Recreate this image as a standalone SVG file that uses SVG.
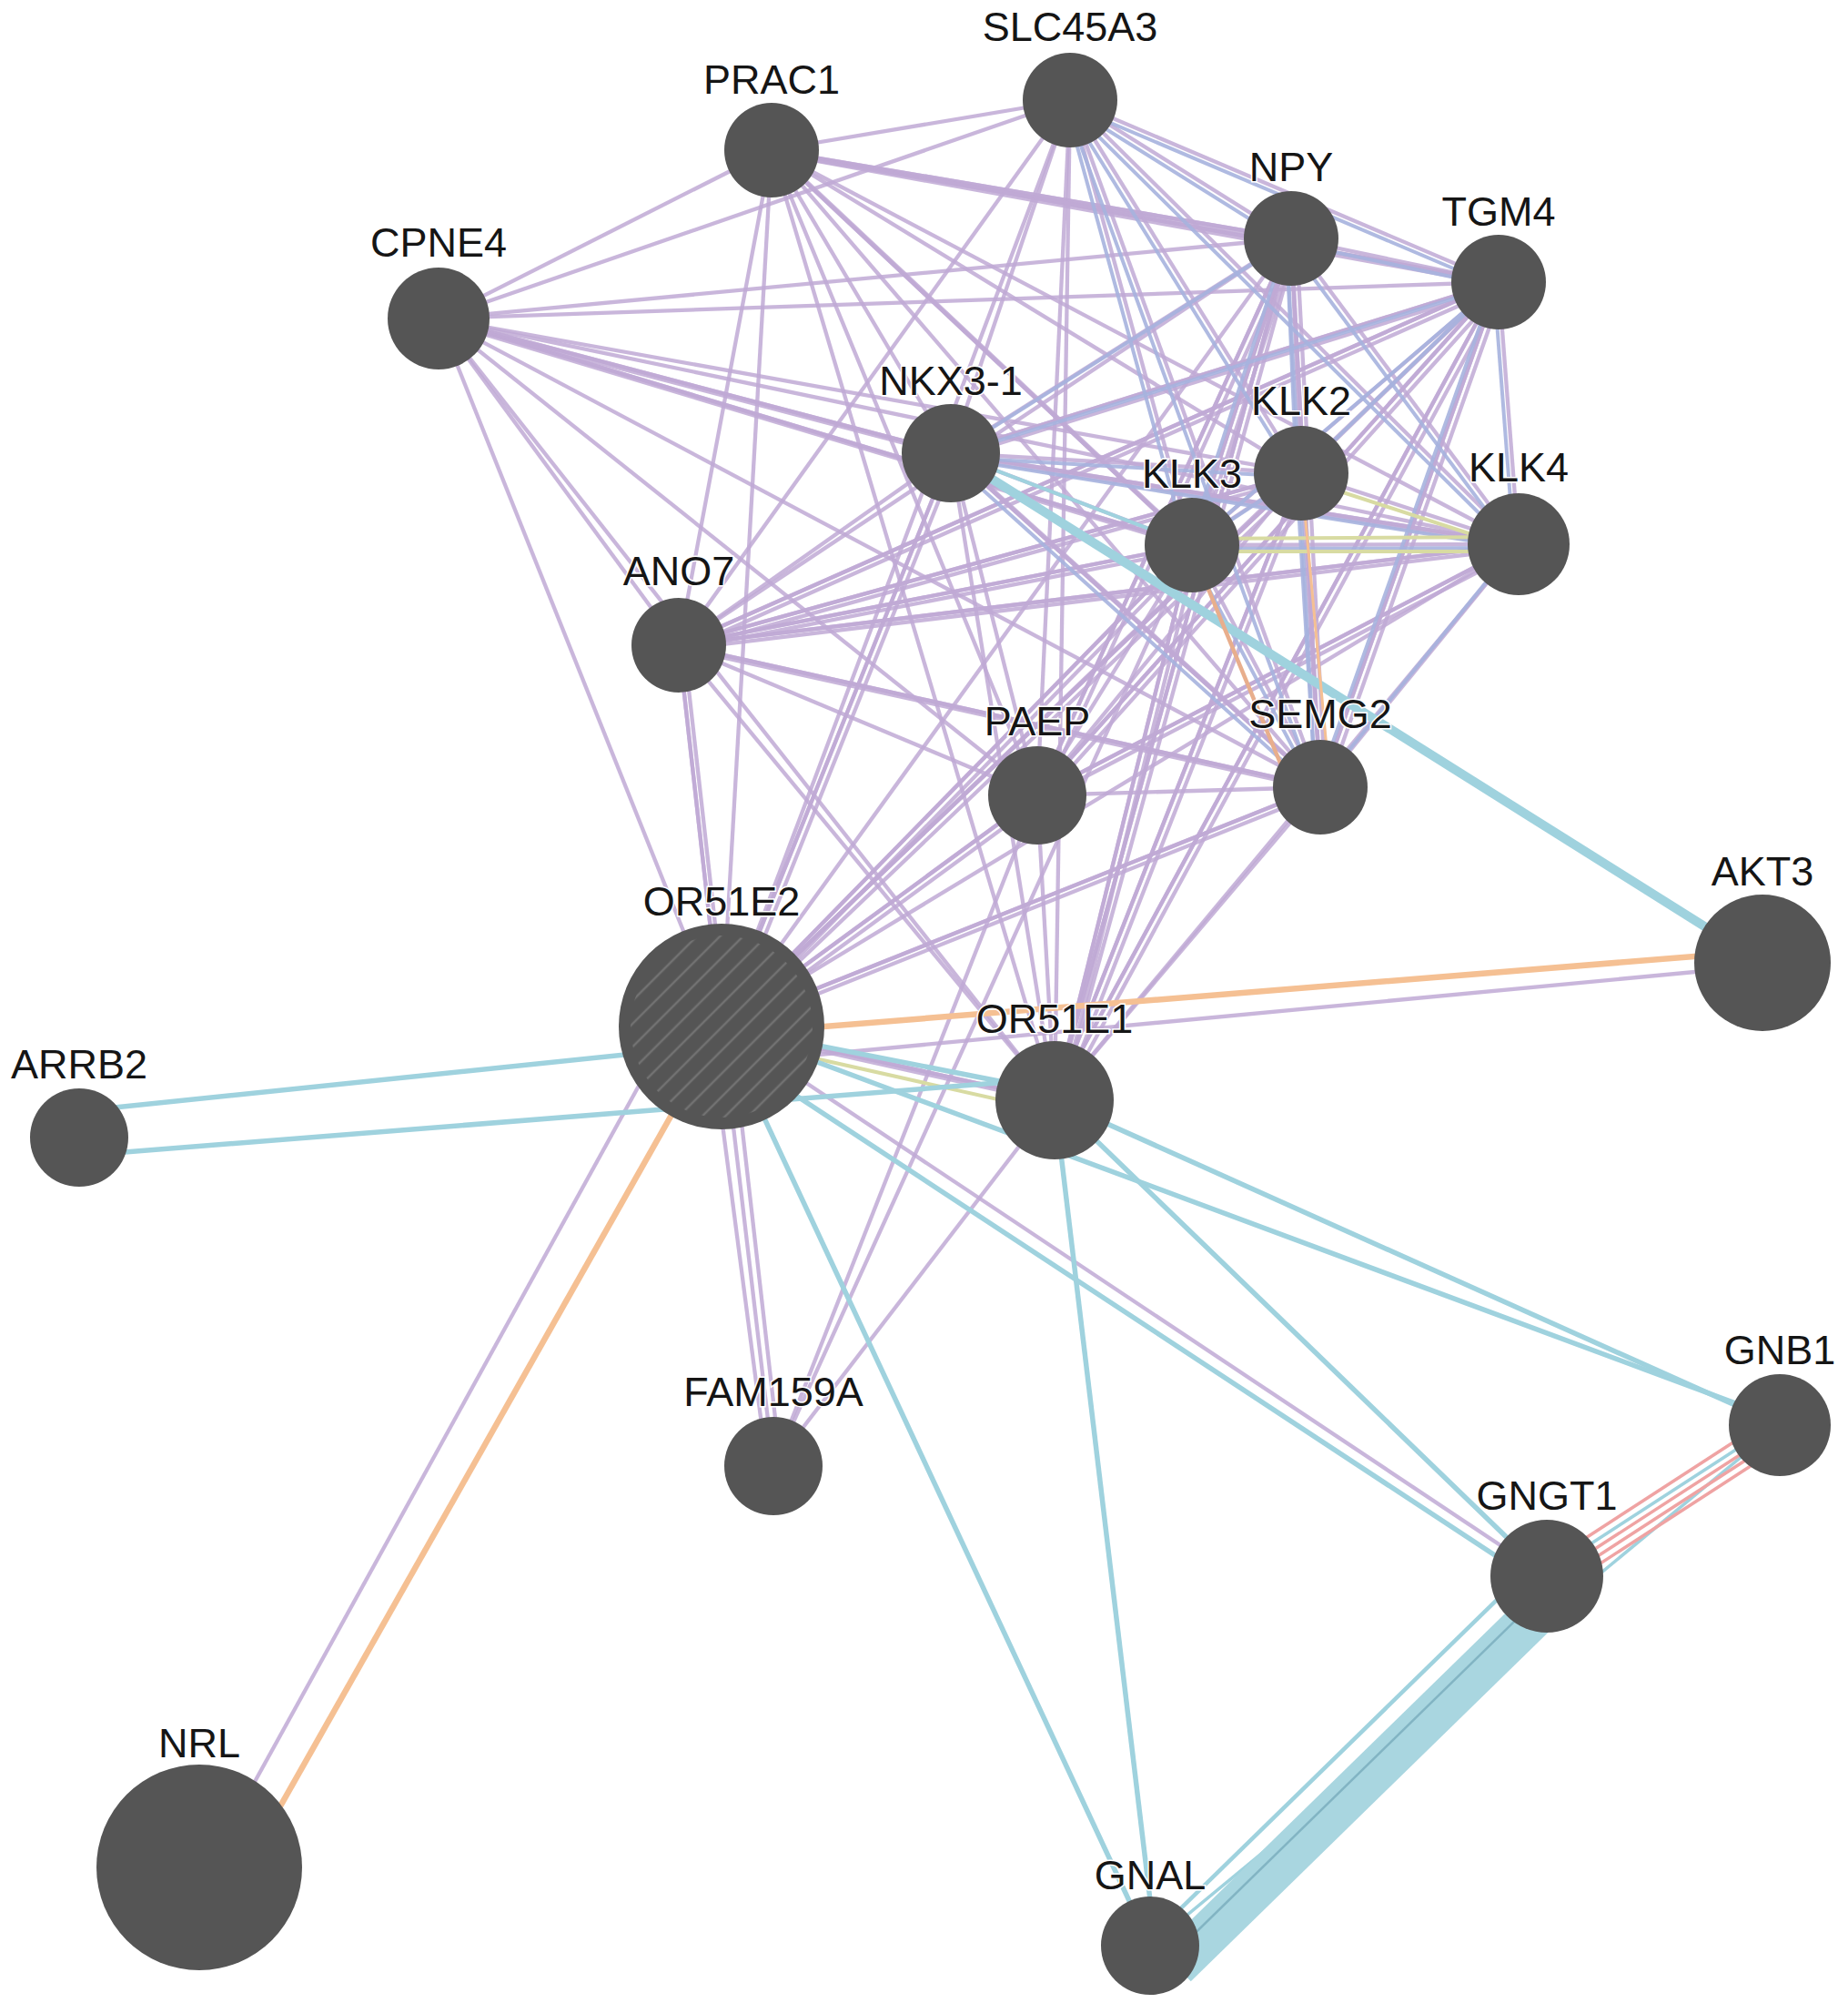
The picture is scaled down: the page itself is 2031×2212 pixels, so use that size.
<svg xmlns="http://www.w3.org/2000/svg" xmlns:xlink="http://www.w3.org/1999/xlink" width="2031" height="2212" viewBox="0 0 2031 2212">
<defs>
<style>
.co{stroke:#c0a9d5;stroke-width:4.3;stroke-opacity:.85;fill:none}
.cl{stroke:#a6b2de;stroke-width:4;stroke-opacity:.9;fill:none}
.pw{stroke:#9fd2de;stroke-width:5.5;fill:none}
.pi{stroke:#f5c093;stroke-width:6.5;fill:none}
.sd{stroke:#d8dba2;stroke-width:4;fill:none}
.gi{stroke:#efa3a3;stroke-width:3.5;fill:none}
.n{fill:#555555}
.lbl{font-family:"Liberation Sans",Arial,sans-serif;font-size:45px;fill:#151515;text-anchor:middle;stroke:#ffffff;stroke-width:3;paint-order:stroke}
</style>
<pattern id="hatch" patternUnits="userSpaceOnUse" width="18" height="18" patternTransform="rotate(-45)">
<rect width="18" height="18" fill="#555555"/>
<line x1="0" y1="9" x2="18" y2="9" stroke="#727272" stroke-width="2.5"/>
</pattern>
</defs>
<rect width="2031" height="2212" fill="#ffffff"/>
<g id="connectors">
<g id="coexpression" class="co">
<line x1="1176" y1="110" x2="848" y2="165"/>
<line x1="1176" y1="110" x2="482" y2="350"/>
<line x1="1176" y1="110" x2="1419" y2="262"/>
<line x1="1176" y1="110" x2="1647" y2="310"/>
<line x1="1176" y1="110" x2="1045" y2="498"/>
<line x1="1176" y1="110" x2="1430" y2="520"/>
<line x1="1176" y1="110" x2="1310" y2="599"/>
<line x1="1176" y1="110" x2="1669" y2="598"/>
<line x1="1176" y1="110" x2="746" y2="709"/>
<line x1="1176" y1="110" x2="1140" y2="874"/>
<line x1="1176" y1="110" x2="1451" y2="865"/>
<line x1="1176" y1="110" x2="793" y2="1128"/>
<line x1="1176" y1="110" x2="1159" y2="1209"/>
<line x1="848" y1="165" x2="482" y2="350"/>
<line x1="848" y1="165" x2="1419" y2="262"/>
<line x1="848" y1="165" x2="1647" y2="310"/>
<line x1="848" y1="165" x2="1045" y2="498"/>
<line x1="848" y1="165" x2="1430" y2="520"/>
<line x1="848" y1="165" x2="1310" y2="599"/>
<line x1="848" y1="165" x2="1669" y2="598"/>
<line x1="848" y1="165" x2="746" y2="709"/>
<line x1="848" y1="165" x2="1140" y2="874"/>
<line x1="848" y1="165" x2="1451" y2="865"/>
<line x1="848" y1="165" x2="793" y2="1128"/>
<line x1="848" y1="165" x2="1159" y2="1209"/>
<line x1="482" y1="350" x2="1419" y2="262"/>
<line x1="482" y1="350" x2="1647" y2="310"/>
<line x1="482" y1="350" x2="1045" y2="498"/>
<line x1="482" y1="350" x2="1430" y2="520"/>
<line x1="482" y1="350" x2="1310" y2="599"/>
<line x1="482" y1="350" x2="1669" y2="598"/>
<line x1="482" y1="350" x2="746" y2="709"/>
<line x1="482" y1="350" x2="1140" y2="874"/>
<line x1="482" y1="350" x2="1451" y2="865"/>
<line x1="482" y1="350" x2="793" y2="1128"/>
<line x1="482" y1="350" x2="1159" y2="1209"/>
<line x1="1419" y1="262" x2="1647" y2="310"/>
<line x1="1419" y1="262" x2="1045" y2="498"/>
<line x1="1419" y1="262" x2="1430" y2="520"/>
<line x1="1419" y1="262" x2="1310" y2="599"/>
<line x1="1419" y1="262" x2="1669" y2="598"/>
<line x1="1419" y1="262" x2="746" y2="709"/>
<line x1="1419" y1="262" x2="1140" y2="874"/>
<line x1="1419" y1="262" x2="1451" y2="865"/>
<line x1="1419" y1="262" x2="793" y2="1128"/>
<line x1="1419" y1="262" x2="1159" y2="1209"/>
<line x1="1647" y1="310" x2="1045" y2="498"/>
<line x1="1647" y1="310" x2="1430" y2="520"/>
<line x1="1647" y1="310" x2="1310" y2="599"/>
<line x1="1647" y1="310" x2="1669" y2="598"/>
<line x1="1647" y1="310" x2="746" y2="709"/>
<line x1="1647" y1="310" x2="1140" y2="874"/>
<line x1="1647" y1="310" x2="1451" y2="865"/>
<line x1="1647" y1="310" x2="793" y2="1128"/>
<line x1="1647" y1="310" x2="1159" y2="1209"/>
<line x1="1045" y1="498" x2="1430" y2="520"/>
<line x1="1045" y1="498" x2="1310" y2="599"/>
<line x1="1045" y1="498" x2="1669" y2="598"/>
<line x1="1045" y1="498" x2="746" y2="709"/>
<line x1="1045" y1="498" x2="1140" y2="874"/>
<line x1="1045" y1="498" x2="1451" y2="865"/>
<line x1="1045" y1="498" x2="793" y2="1128"/>
<line x1="1045" y1="498" x2="1159" y2="1209"/>
<line x1="1430" y1="520" x2="1310" y2="599"/>
<line x1="1430" y1="520" x2="1669" y2="598"/>
<line x1="1430" y1="520" x2="746" y2="709"/>
<line x1="1430" y1="520" x2="1140" y2="874"/>
<line x1="1430" y1="520" x2="1451" y2="865"/>
<line x1="1430" y1="520" x2="793" y2="1128"/>
<line x1="1430" y1="520" x2="1159" y2="1209"/>
<line x1="1310" y1="599" x2="1669" y2="598"/>
<line x1="1310" y1="599" x2="746" y2="709"/>
<line x1="1310" y1="599" x2="1140" y2="874"/>
<line x1="1310" y1="599" x2="1451" y2="865"/>
<line x1="1310" y1="599" x2="793" y2="1128"/>
<line x1="1310" y1="599" x2="1159" y2="1209"/>
<line x1="1669" y1="598" x2="746" y2="709"/>
<line x1="1669" y1="598" x2="1140" y2="874"/>
<line x1="1669" y1="598" x2="1451" y2="865"/>
<line x1="1669" y1="598" x2="793" y2="1128"/>
<line x1="1669" y1="598" x2="1159" y2="1209"/>
<line x1="746" y1="709" x2="1140" y2="874"/>
<line x1="746" y1="709" x2="1451" y2="865"/>
<line x1="746" y1="709" x2="793" y2="1128"/>
<line x1="746" y1="709" x2="1159" y2="1209"/>
<line x1="1140" y1="874" x2="1451" y2="865"/>
<line x1="1140" y1="874" x2="793" y2="1128"/>
<line x1="1140" y1="874" x2="1159" y2="1209"/>
<line x1="1451" y1="865" x2="793" y2="1128"/>
<line x1="1451" y1="865" x2="1159" y2="1209"/>
<line x1="793" y1="1128" x2="1159" y2="1209"/>
<line x1="850" y1="1611" x2="793" y2="1128"/>
<line x1="858" y1="1611" x2="803" y2="1128"/>
<line x1="843" y1="1611" x2="780" y2="1128"/>
<line x1="850" y1="1611" x2="1140" y2="874"/>
<line x1="850" y1="1611" x2="1310" y2="599"/>
<line x1="850" y1="1611" x2="1159" y2="1209"/>
<line x1="793" y1="1169" x2="1937" y2="1061"/>
<line x1="228" y1="2052" x2="738" y2="1128"/>
<line x1="793" y1="1128" x2="1700" y2="1732"/>
</g>
<g id="coexpression-extra" class="co">
<g id="dbl">
<line x1="482" y1="350" x2="1045" y2="498"/>
<line x1="482" y1="350" x2="1310" y2="599"/>
<line x1="848" y1="165" x2="1419" y2="262"/>
<line x1="848" y1="165" x2="1647" y2="310"/>
<line x1="848" y1="165" x2="1310" y2="599"/>
<line x1="746" y1="709" x2="1669" y2="598"/>
<line x1="746" y1="709" x2="1451" y2="865"/>
<line x1="746" y1="709" x2="1430" y2="520"/>
<line x1="1045" y1="498" x2="1669" y2="598"/>
<line x1="1045" y1="498" x2="1647" y2="310"/>
<line x1="793" y1="1128" x2="1310" y2="599"/>
<line x1="793" y1="1128" x2="1430" y2="520"/>
<line x1="793" y1="1128" x2="1451" y2="865"/>
<line x1="793" y1="1128" x2="1140" y2="874"/>
<line x1="1159" y1="1209" x2="1430" y2="520"/>
<line x1="1159" y1="1209" x2="1310" y2="599"/>
<line x1="1159" y1="1209" x2="1647" y2="310"/>
<line x1="1159" y1="1209" x2="1419" y2="262"/>
<line x1="1451" y1="865" x2="1647" y2="310"/>
<line x1="1451" y1="865" x2="1419" y2="262"/>
<line x1="1140" y1="874" x2="1647" y2="310"/>
<line x1="1140" y1="874" x2="1419" y2="262"/>
<line x1="1310" y1="599" x2="1419" y2="262"/>
<line x1="793" y1="1128" x2="1045" y2="498"/>
<line x1="793" y1="1128" x2="746" y2="709"/>
<line x1="793" y1="1128" x2="1159" y2="1209"/>
<line x1="746" y1="709" x2="1310" y2="599"/>
<line x1="746" y1="709" x2="1647" y2="310"/>
<line x1="1140" y1="874" x2="1669" y2="598"/>
<line x1="1451" y1="865" x2="1045" y2="498"/>
</g>
<use xlink:href="#dbl" href="#dbl" transform="translate(6,4)"/>
</g>
<g id="colocalization" class="cl" transform="translate(-5,4)">
<line x1="1176" y1="110" x2="1419" y2="262"/>
<line x1="1176" y1="110" x2="1647" y2="310"/>
<line x1="1176" y1="110" x2="1430" y2="520"/>
<line x1="1176" y1="110" x2="1310" y2="599"/>
<line x1="1176" y1="110" x2="1669" y2="598"/>
<line x1="1176" y1="110" x2="1451" y2="865"/>
<line x1="1419" y1="262" x2="1647" y2="310"/>
<line x1="1419" y1="262" x2="1430" y2="520"/>
<line x1="1419" y1="262" x2="1310" y2="599"/>
<line x1="1419" y1="262" x2="1669" y2="598"/>
<line x1="1419" y1="262" x2="1451" y2="865"/>
<line x1="1647" y1="310" x2="1430" y2="520"/>
<line x1="1647" y1="310" x2="1310" y2="599"/>
<line x1="1647" y1="310" x2="1669" y2="598"/>
<line x1="1647" y1="310" x2="1451" y2="865"/>
<line x1="1647" y1="310" x2="1045" y2="498"/>
<line x1="1419" y1="262" x2="1045" y2="498"/>
<line x1="1430" y1="520" x2="1310" y2="599"/>
<line x1="1430" y1="520" x2="1451" y2="865"/>
<line x1="1310" y1="599" x2="1669" y2="598"/>
<line x1="1669" y1="598" x2="1451" y2="865"/>
<line x1="1310" y1="599" x2="1451" y2="865"/>
<line x1="1045" y1="498" x2="1430" y2="520"/>
<line x1="1045" y1="498" x2="1669" y2="598"/>
<line x1="1045" y1="498" x2="1451" y2="865"/>
</g>
<g id="shared-domains" class="sd">
<line x1="1430" y1="526" x2="1669" y2="604"/>
<line x1="1310" y1="606" x2="1669" y2="606"/>
<line x1="1310" y1="592" x2="1669" y2="590"/>
<line x1="793" y1="1140" x2="1159" y2="1222"/>
</g>
<g id="pathway" class="pw">
<line x1="1045" y1="498" x2="1937" y2="1058" stroke-width="10"/>
<line x1="1045" y1="498" x2="1310" y2="599" stroke-width="4"/>
<line x1="87" y1="1221" x2="793" y2="1148"/>
<line x1="87" y1="1270" x2="1159" y2="1185"/>
<line x1="793" y1="1128" x2="1159" y2="1200"/>
<line x1="793" y1="1128" x2="1264" y2="2138"/>
<line x1="1159" y1="1209" x2="1270" y2="2138"/>
<line x1="1159" y1="1209" x2="1956" y2="1566"/>
<line x1="793" y1="1128" x2="1956" y2="1560"/>
<line x1="1159" y1="1209" x2="1700" y2="1732"/>
<line x1="793" y1="1150" x2="1690" y2="1740"/>
<line x1="1956" y1="1566" x2="1264" y2="2138" stroke-width="3.5"/>
<line x1="1954" y1="1563" x2="1698" y2="1729" stroke-width="3.5"/>
<line x1="1712" y1="1750" x2="1292" y2="2160" stroke-width="48" stroke="#a9d6e0"/>
<line x1="1684" y1="1720" x2="1264" y2="2130" stroke-width="4.5"/>
<line x1="1705" y1="1742" x2="1285" y2="2152" stroke-width="2.5" stroke="#82b4c3"/>
</g>
<g id="physical" class="pi">
<line x1="793" y1="1137" x2="1937" y2="1045"/>
<line x1="793" y1="1128" x2="270" y2="2052"/>
<line x1="1308" y1="599" x2="1418" y2="865" stroke-width="4.5" stroke="#e8ae8c"/>
<line x1="1430" y1="520" x2="1462" y2="865" stroke-width="3"/>
</g>
<g id="genetic" class="gi">
<line x1="1949.5" y1="1556" x2="1693.5" y2="1722"/>
<line x1="1958" y1="1569" x2="1702" y2="1735"/>
<line x1="1962.5" y1="1576" x2="1706.5" y2="1742"/>
<line x1="1967" y1="1583" x2="1711" y2="1749"/>
</g>
</g>
<g id="nodes">
<g id="node-SLC45A3"><circle class="n" cx="1176" cy="110" r="52"/><text class="lbl" x="1176" y="45">SLC45A3</text></g>
<g id="node-PRAC1"><circle class="n" cx="848" cy="165" r="52"/><text class="lbl" x="848" y="103">PRAC1</text></g>
<g id="node-CPNE4"><circle class="n" cx="482" cy="350" r="56"/><text class="lbl" x="482" y="282">CPNE4</text></g>
<g id="node-NPY"><circle class="n" cx="1419" cy="262" r="52"/><text class="lbl" x="1419" y="199">NPY</text></g>
<g id="node-TGM4"><circle class="n" cx="1647" cy="310" r="52"/><text class="lbl" x="1647" y="248">TGM4</text></g>
<g id="node-NKX3-1"><circle class="n" cx="1045" cy="498" r="54"/><text class="lbl" x="1045" y="434">NKX3-1</text></g>
<g id="node-KLK2"><circle class="n" cx="1430" cy="520" r="52"/><text class="lbl" x="1430" y="456">KLK2</text></g>
<g id="node-KLK3"><circle class="n" cx="1310" cy="599" r="52"/><text class="lbl" x="1310" y="536">KLK3</text></g>
<g id="node-KLK4"><circle class="n" cx="1669" cy="598" r="56"/><text class="lbl" x="1669" y="529">KLK4</text></g>
<g id="node-ANO7"><circle class="n" cx="746" cy="709" r="52"/><text class="lbl" x="746" y="643">ANO7</text></g>
<g id="node-PAEP"><circle class="n" cx="1140" cy="874" r="54"/><text class="lbl" x="1140" y="808">PAEP</text></g>
<g id="node-SEMG2"><circle class="n" cx="1451" cy="865" r="52"/><text class="lbl" x="1451" y="800">SEMG2</text></g>
<g id="node-AKT3"><circle class="n" cx="1937" cy="1058" r="75"/><text class="lbl" x="1937" y="973">AKT3</text></g>
<g id="node-OR51E2"><circle class="n" cx="793" cy="1128" r="113"/><circle cx="793" cy="1128" r="100" fill="url(#hatch)"/><text class="lbl" x="793" y="1006">OR51E2</text></g>
<g id="node-OR51E1"><circle class="n" cx="1159" cy="1209" r="65"/><text class="lbl" x="1159" y="1135">OR51E1</text></g>
<g id="node-ARRB2"><circle class="n" cx="87" cy="1250" r="54"/><text class="lbl" x="87" y="1185">ARRB2</text></g>
<g id="node-GNB1"><circle class="n" cx="1956" cy="1566" r="56"/><text class="lbl" x="1956" y="1499">GNB1</text></g>
<g id="node-FAM159A"><circle class="n" cx="850" cy="1611" r="54"/><text class="lbl" x="850" y="1545">FAM159A</text></g>
<g id="node-GNGT1"><circle class="n" cx="1700" cy="1732" r="62"/><text class="lbl" x="1700" y="1659">GNGT1</text></g>
<g id="node-NRL"><circle class="n" cx="219" cy="2052" r="113"/><text class="lbl" x="219" y="1931">NRL</text></g>
<g id="node-GNAL"><circle class="n" cx="1264" cy="2138" r="54"/><text class="lbl" x="1264" y="2076">GNAL</text></g>
</g>
</svg>
